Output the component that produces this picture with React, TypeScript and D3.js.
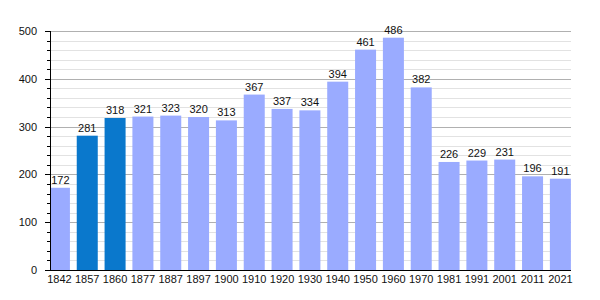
import React from "react";
import * as d3 from "d3";

const years = ["1842","1857","1860","1877","1887","1897","1900","1910","1920","1930","1940","1950","1960","1970","1981","1991","2001","2011","2021"];
const population = [172,281,318,321,323,320,313,367,337,334,394,461,486,382,226,229,231,196,191];
const highlighted = ["1857","1860"];
const majorTicks = [0,100,200,300,400,500];

const W = 600, H = 300;
const axisX = 50, right = 571, y0 = 270, yTop = 31;
const font = "'Liberation Sans', Arial, sans-serif";

export default function App() {
  const x = d3.scaleBand<string>().domain(years).range([45.5, 574.3]).paddingInner(0.245).paddingOuter(0.1225);
  const y = d3.scaleLinear().domain([0, 500]).range([y0, yTop]);
  const minor = d3.range(0, 501, 20).filter(v => v % 100 !== 0);
  return (
    <svg width={W} height={H} style={{ display: "block", position: "absolute", left: 0, top: 0 }}>
      <defs>
        <clipPath id="plot"><rect x={axisX + 1} y={0} width={right - axisX} height={y0} /></clipPath>
      </defs>
      {minor.map(v => (
        <line key={"m" + v} x1={axisX} x2={right} y1={Math.round(y(v)) + 0.5} y2={Math.round(y(v)) + 0.5} stroke="#e2e2e2" />
      ))}
      {majorTicks.filter(v => v > 0).map(v => (
        <line key={"M" + v} x1={axisX} x2={right} y1={Math.round(y(v)) + 0.5} y2={Math.round(y(v)) + 0.5} stroke="#b0b0b0" />
      ))}
      <g clipPath="url(#plot)">
        {years.map((yr, i) => (
          <rect key={yr} x={x(yr)} width={x.bandwidth()} y={y(population[i])} height={y0 - y(population[i])}
            fill={highlighted.includes(yr) ? "#0a78cc" : "#9aabff"} />
        ))}
      </g>
      {years.map((yr, i) => (
        <text key={"v" + yr} x={(x(yr) as number) + x.bandwidth() / 2 + (i === 0 ? 1 : 0)} y={y(population[i]) - 4}
          textAnchor="middle" fontFamily={font} fontSize={11} fill="#111">{population[i]}</text>
      ))}
      {years.map(yr => (
        <text key={"x" + yr} x={(x(yr) as number) + x.bandwidth() / 2} y={283}
          textAnchor="middle" fontFamily={font} fontSize={11} fill="#111">{yr}</text>
      ))}
      {minor.map(v => (
        <line key={"mt" + v} x1={axisX - 3} x2={axisX} y1={Math.round(y(v)) + 0.5} y2={Math.round(y(v)) + 0.5} stroke="#000" />
      ))}
      {majorTicks.map(v => (
        <g key={"t" + v}>
          <line x1={axisX - 5} x2={axisX} y1={Math.round(y(v)) + 0.5} y2={Math.round(y(v)) + 0.5} stroke="#000" />
          <text x={37} y={y(v) + 4} textAnchor="end" fontFamily={font} fontSize={11} fill="#111">{v}</text>
        </g>
      ))}
      <line x1={axisX + 0.5} x2={axisX + 0.5} y1={yTop} y2={y0 + 0.5} stroke="#000" />
      <line x1={axisX} x2={right} y1={y0 + 0.5} y2={y0 + 0.5} stroke="#000" />
    </svg>
  );
}
